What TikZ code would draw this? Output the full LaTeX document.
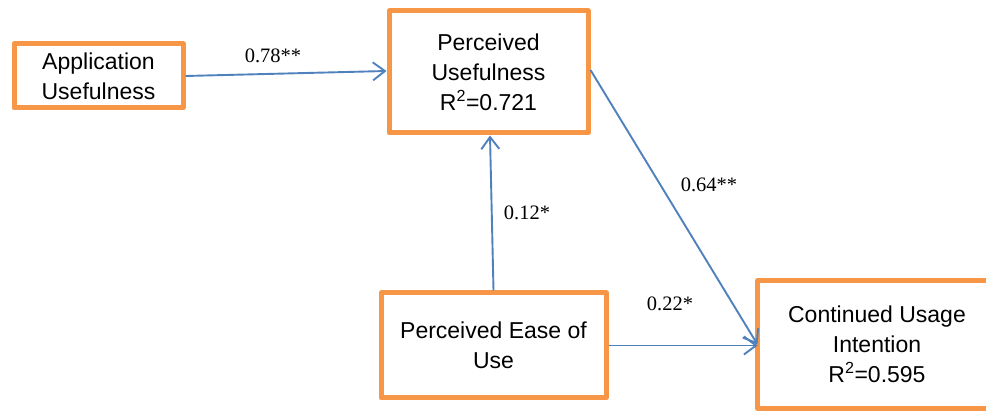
\documentclass[tikz,border=0pt]{standalone}
\usepackage{fontspec}
\setmainfont{Liberation Sans}
\newfontfamily\labelfont{Liberation Serif}
\usetikzlibrary{arrows.meta}
\definecolor{boxorange}{HTML}{F79646}
\definecolor{arrowblue}{HTML}{4F81BD}
\tikzset{
  border/.style={draw=boxorange, line width=5pt, line join=round},
  construct/.style={border, fill=white, align=center,
    inner sep=0pt, font=\fontsize{23}{30}\selectfont},
  path/.style={draw=arrowblue, line width=1.9pt,
    -{Straight Barb[length=12pt,width=18pt,line width=1.9pt]}},
  coef/.style={font=\labelfont\fontsize{20.5}{24}\selectfont, inner sep=0pt}
}
\begin{document}
\begin{tikzpicture}[x=1pt,y=-1pt]
\useasboundingbox (0,0) rectangle (986,411);
\node[construct, minimum width=169pt, minimum height=64pt] (AU) at (98.5,76) {Application\\Usefulness};
\node[construct, minimum width=199pt, minimum height=122pt] (PU) at (488.5,72) {Perceived\\Usefulness\\R\textsuperscript{2}=0.721};
\node[construct, minimum width=225pt, minimum height=105pt] (PEOU) at (493.5,345.5) {Perceived Ease of\\Use};
\node[construct, draw=none, minimum width=234pt, minimum height=123pt] (CUI) at (877,344.5) {Continued Usage\\Intention\\R\textsuperscript{2}=0.595};
\coordinate (cuiTR) at (CUI.north -| 986,0);
\coordinate (cuiBR) at (CUI.south -| 986,0);
\draw[border, line cap=butt] (cuiTR) -- (CUI.north west) -- (CUI.south west) -- (cuiBR);
\draw[path] (AU.east) -- ([yshift=1pt]PU.west);
\draw[path] (PEOU.north) -- ([xshift=1.5pt]PU.south);
\draw[path] ([yshift=2pt]PU.east) -- (CUI.west);
\draw[path] (PEOU.east) -- ([yshift=-1pt]CUI.west);
\node[coef] (l1) at (273,56) {0.78**};
\node[coef] (l2) at (527,213) {0.12*};
\node[coef] (l3) at (709,185) {0.64**};
\node[coef] (l4) at (670,304) {0.22*};
\end{tikzpicture}
\end{document}
